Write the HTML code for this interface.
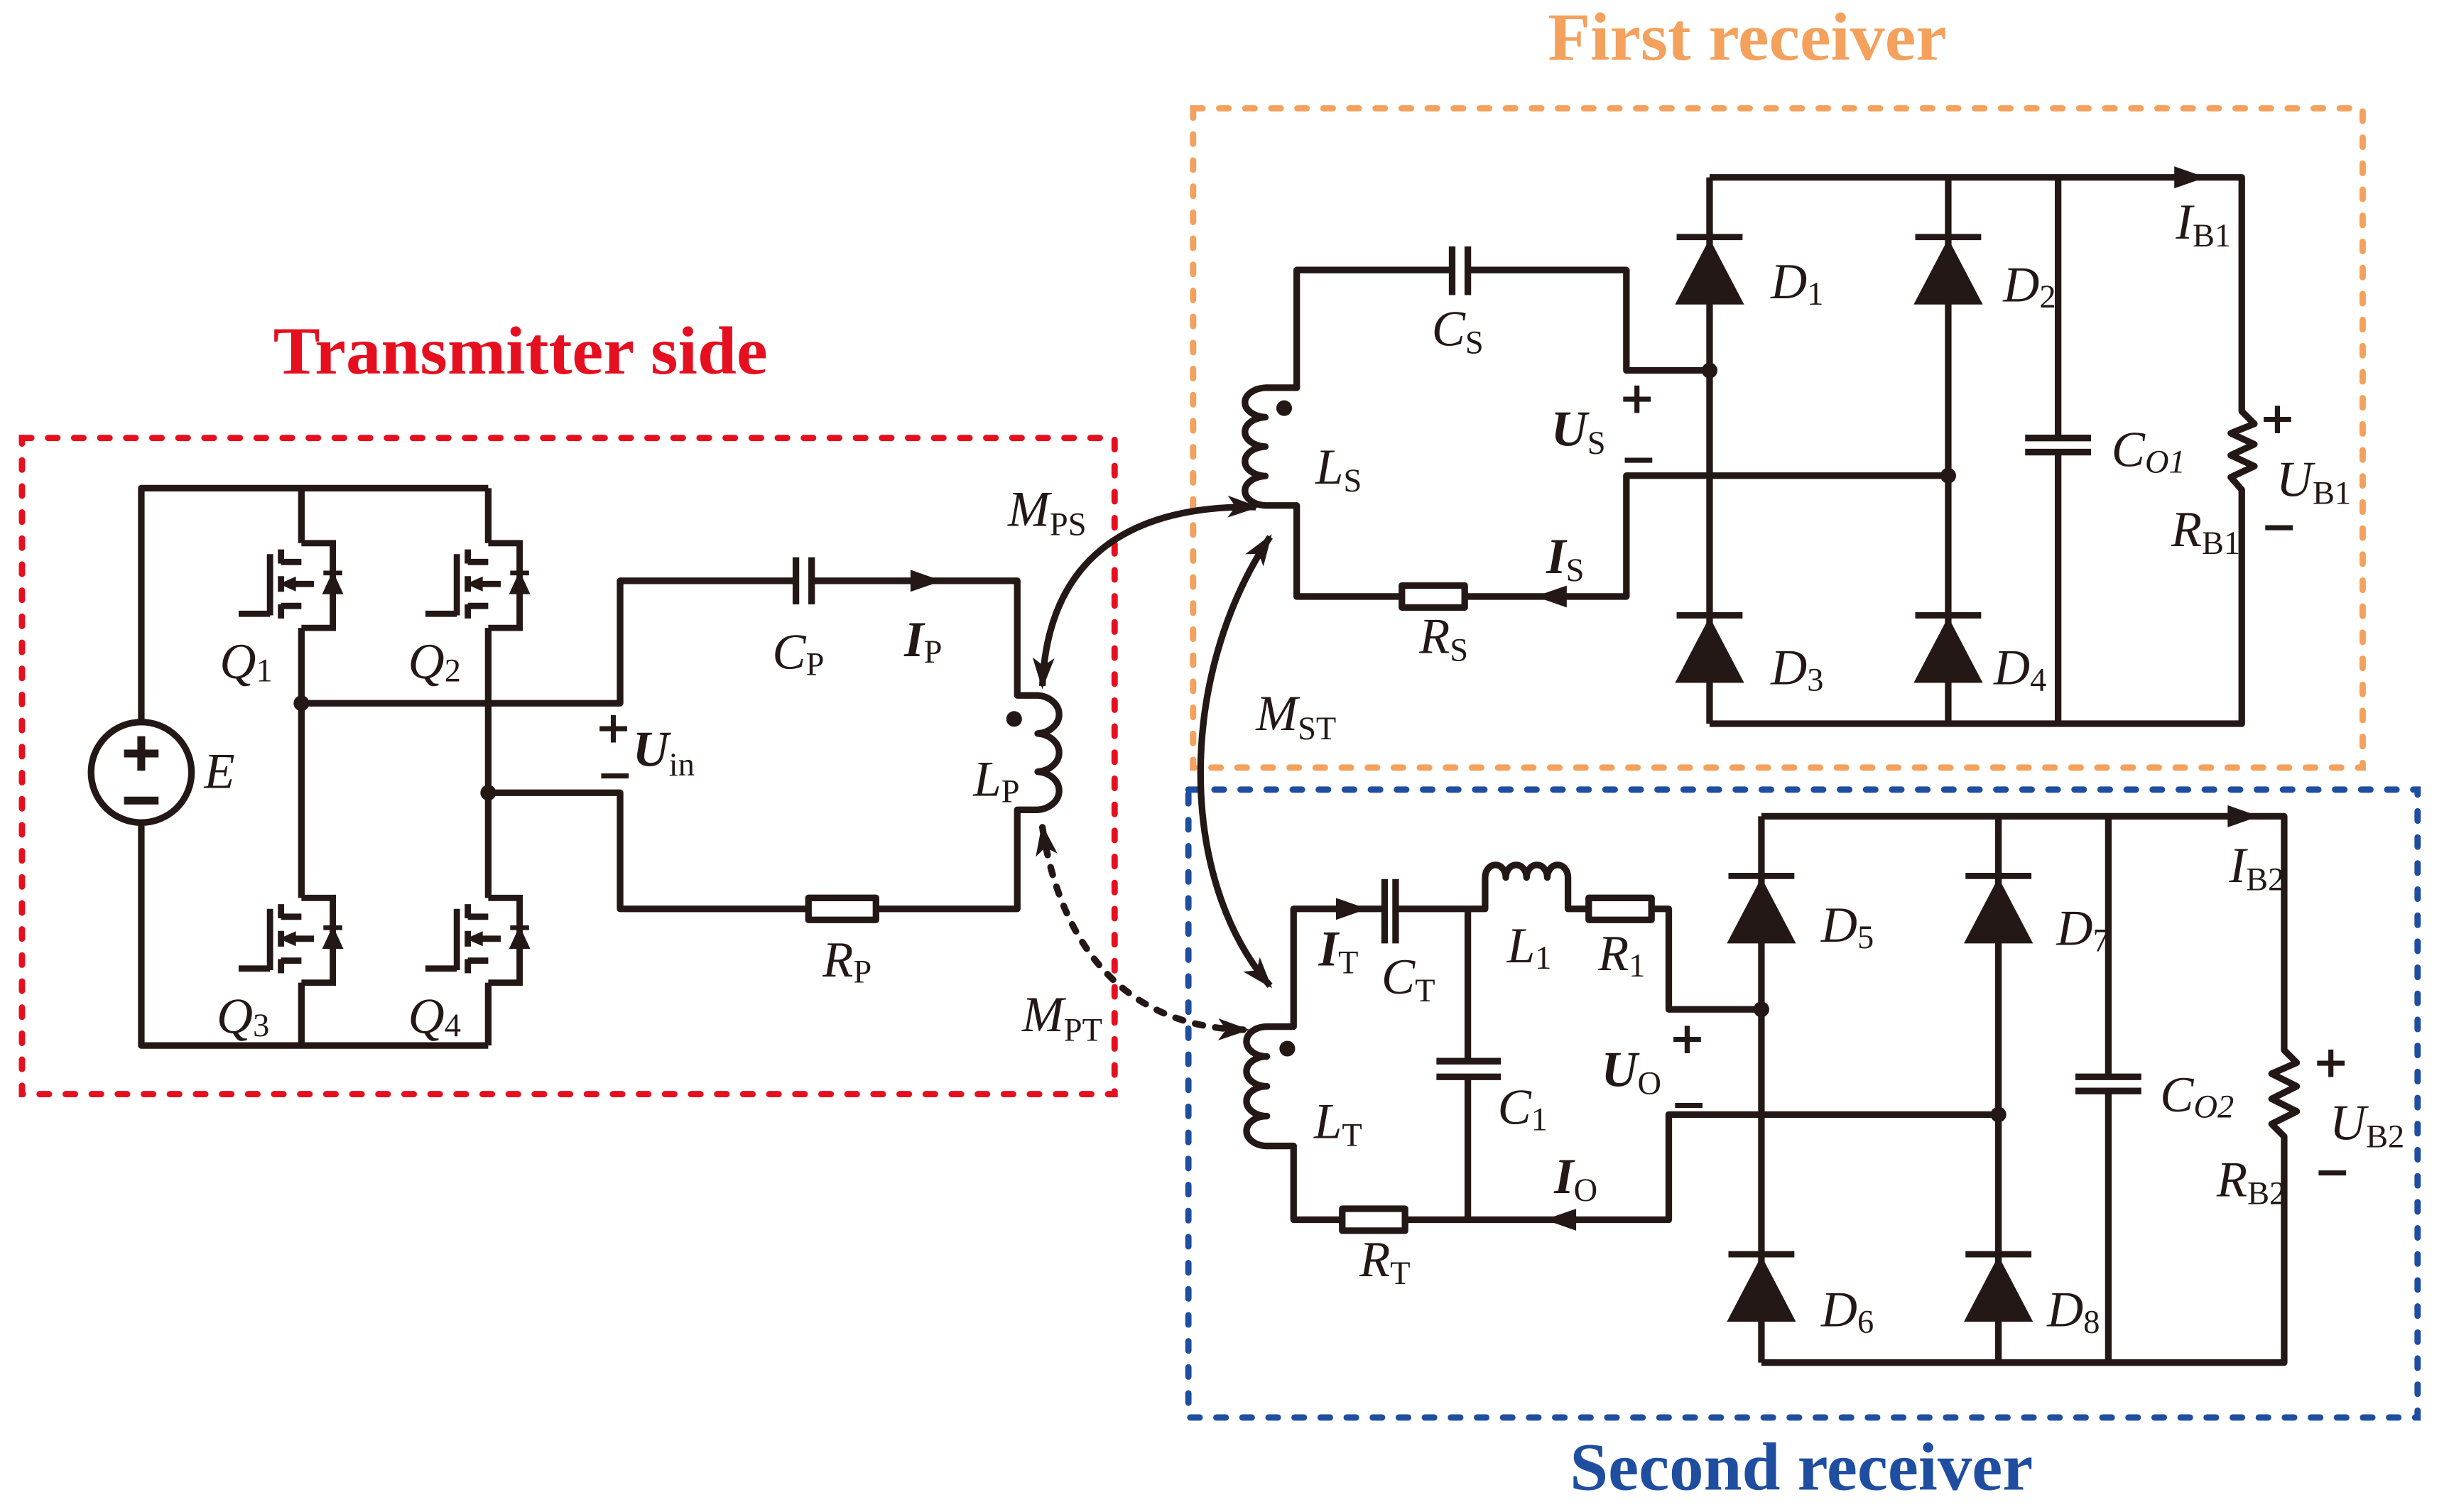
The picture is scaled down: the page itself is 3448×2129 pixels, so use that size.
<!DOCTYPE html>
<html><head><meta charset="utf-8"><style>
html,body{margin:0;padding:0;background:#fff}
svg{display:block}
.t{font-family:"Liberation Serif",serif;font-style:italic;font-size:32px;fill:#231815}
.b{font-weight:bold}
.s{font-size:21px;font-style:normal}
.si{font-size:21px;font-style:italic}
.pm{font-family:"DejaVu Sans",sans-serif;font-weight:bold;font-size:28px;fill:#231815}
</style></head><body>
<svg width="3448" height="2129" viewBox="0 0 1560 963.2" preserveAspectRatio="none" xmlns="http://www.w3.org/2000/svg">
<defs>
<marker id="ah" viewBox="0 0 20 14" refX="18" refY="7" markerWidth="20" markerHeight="14" markerUnits="userSpaceOnUse" orient="auto-start-reverse">
<path d="M0,0 L20,7 L0,14 L5,7 Z" fill="#231815"/></marker>
<g id="mos" stroke="#231815" stroke-width="4" fill="none">
<path d="M0,-26 H20 V28 H0"/>
<path d="M0,-14 H-13 M-13,14 H0"/>
<path d="M-13,-22 V-13 M-13,-5 V5 M-13,13 V22"/>
<path d="M-20,-19 V20 M-40,19 H-20"/>
<path d="M-6,0 H8"/>
<path d="M-13,0 L-4,-4 L-4,4 Z" fill="#231815" stroke-width="1"/>
<path d="M20,-7 L14,6 L26,6 Z" fill="#231815" stroke-width="1"/>
<path d="M14,-7 H26" stroke-width="3"/>
</g>
<g id="dio">
<path d="M-22,0 L22,0 L0,-42 Z" fill="#231815" transform="translate(0,43)"/>
<path d="M-21,0 H21" stroke="#231815" stroke-width="4"/>
</g>
</defs>

<g fill="none" stroke-width="4" stroke-linecap="round" stroke-dasharray="6 10.6">
<rect x="14" y="279" width="696" height="418" stroke="#E50F1F"/>
<rect x="760" y="69" width="745" height="420" stroke="#F3A15C"/>
<rect x="757" y="503" width="783" height="400" stroke="#1F4EA0"/>
</g>

<text x="174" y="238" textLength="315" lengthAdjust="spacingAndGlyphs" style="font-family:'Liberation Serif',serif;font-weight:bold;font-size:43px;fill:#E50F1F">Transmitter side</text>
<text x="986" y="38" textLength="254" lengthAdjust="spacingAndGlyphs" style="font-family:'Liberation Serif',serif;font-weight:bold;font-size:43px;fill:#F3A15C">First receiver</text>
<text x="1000" y="949" textLength="295" lengthAdjust="spacingAndGlyphs" style="font-family:'Liberation Serif',serif;font-weight:bold;font-size:43px;fill:#1F4EA0">Second receiver</text>

<g stroke="#231815" stroke-width="4.2" fill="none" stroke-linejoin="round">
<path d="M90,459 V311 H311 M90,525 V666 H311"/>
<circle cx="90" cy="492" r="32"/>
<path d="M192,311 V346 M192,400 V572 M192,626 V666"/>
<path d="M311,311 V346 M311,400 V572 M311,626 V666"/>
<path d="M192,448 H395 V370 H507 M517,370 H648 V443 H661 a15,12.2 0 0 1 0,24.3 a15,12.2 0 0 1 0,24.3 a15,12.2 0 0 1 0,24.3 H648 V579 H558 M515,579 H395 V505 H311"/>
<path d="M507,355 V385 M517,355 V385"/>
<rect x="515" y="572" width="43" height="14" fill="#fff"/>
<path d="M925,172 H826 V247 H806 a14,9.4 0 0 0 0,18.75 a14,9.4 0 0 0 0,18.75 a14,9.4 0 0 0 0,18.75 a14,9.4 0 0 0 0,18.75 H826 V380 H893 M933,380 H1036 V303 H1241 M935,172 H1036 V236 H1089"/>
<path d="M925,157 V188 M935,157 V188"/>
<rect x="893" y="373" width="40" height="14" fill="#fff"/>
<path d="M1089,113 V461 M1241,113 V461 M1089,113 H1428 V262 L1436,270 L1421,276 L1436,283 L1421,290 L1436,297 L1421,304 L1428,312 V461 H1089"/>
<path d="M1311,113 V279 M1311,288 V461 M1290,279 H1332 M1290,288 H1332"/>
<path d="M882,579 H824 V654 H807 a13,9.5 0 0 0 0,19 a13,9.5 0 0 0 0,19 a13,9.5 0 0 0 0,19 a13,9.5 0 0 0 0,19 H824 V777 H855 M895,777 H1063 V710 H1273 M889,579 H946 V559 a6.6,8 0 0 1 13.2,0 a6.6,8 0 0 1 13.2,0 a6.6,8 0 0 1 13.2,0 a6.6,8 0 0 1 13.2,0 V579 H1012 M1052,579 H1063 V643 H1122"/>
<path d="M935,579 V676 M935,686 V777 M915,676 H956 M915,686 H956"/>
<path d="M882,560 V601 M889,560 V601"/>
<rect x="1012" y="572" width="40" height="14" fill="#fff"/>
<rect x="855" y="770" width="40" height="14" fill="#fff"/>
<path d="M1122,520 V868 M1273,520 V868 M1122,520 H1455 V669 L1463,677 L1447,684 L1463,692 L1447,700 L1463,708 L1447,716 L1455,724 V868 H1122"/>
<path d="M1343,520 V686 M1343,695 V868 M1322,686 H1364 M1322,695 H1364"/>
<path d="M800,323 C740,322 668,340 664,437" marker-start="url(#ah)" marker-end="url(#ah)"/>
<path d="M809,342 C750,430 750,560 809,628" marker-start="url(#ah)" marker-end="url(#ah)"/>
<path d="M664,527 C675,600 715,655 794,656" stroke-dasharray="5 8" stroke-linecap="round" marker-start="url(#ah)" marker-end="url(#ah)"/>
</g>

<path d="M79,480 H101 M90,469 V491 M79,510 H101" stroke="#231815" stroke-width="5"/>

<use href="#mos" x="192" y="372"/>
<use href="#mos" x="311" y="372"/>
<use href="#mos" x="192" y="598"/>
<use href="#mos" x="311" y="598"/>

<use href="#dio" x="1089" y="151"/>
<use href="#dio" x="1241" y="151"/>
<use href="#dio" x="1089" y="392"/>
<use href="#dio" x="1241" y="392"/>
<use href="#dio" x="1122" y="558"/>
<use href="#dio" x="1273" y="558"/>
<use href="#dio" x="1122" y="799"/>
<use href="#dio" x="1273" y="799"/>

<g fill="#231815">
<circle cx="192" cy="448" r="5"/><circle cx="311" cy="505" r="5"/>
<circle cx="1089" cy="236" r="5"/><circle cx="1241" cy="303" r="5"/>
<circle cx="1122" cy="643" r="5"/><circle cx="1273" cy="710" r="5"/>
<circle cx="646" cy="458" r="5"/><circle cx="818" cy="260" r="5"/><circle cx="820" cy="668" r="5"/>
<path d="M600,370 L580,363 L580,377 Z"/>
<path d="M1405,113 L1385,106 L1385,120 Z"/>
<path d="M1439,520 L1419,513 L1419,527 Z"/>
<path d="M978,380 L998,373 L998,387 Z"/>
<path d="M984,777 L1004,770 L1004,784 Z"/>
<path d="M871,579 L851,572 L851,586 Z"/>
</g>

<g class="pm">
<text x="379" y="473">+</text><text x="380" y="503">−</text>
<text x="1031" y="263">+</text><text x="1032" y="302">−</text>
<text x="1063" y="671">+</text><text x="1064" y="713">−</text>
<text x="1439" y="276">+</text><text x="1440" y="345">−</text>
<text x="1473" y="686">+</text><text x="1474" y="756">−</text>
</g>

<g class="t">
<text x="140" y="432">Q<tspan class="s" dy="2">1</tspan></text>
<text x="260" y="432">Q<tspan class="s" dy="2">2</tspan></text>
<text x="138" y="658">Q<tspan class="s" dy="2">3</tspan></text>
<text x="260" y="658">Q<tspan class="s" dy="2">4</tspan></text>
<text x="130" y="502">E</text>
<text x="492" y="426">C<tspan class="s" dy="4">P</tspan></text>
<text x="576" y="418" class="b">I<tspan class="s" dy="4" style="font-weight:normal">P</tspan></text>
<text x="403" y="488" class="b">U<tspan class="s" dy="6" style="font-weight:normal">in</tspan></text>
<text x="620" y="507">L<tspan class="s" dy="4">P</tspan></text>
<text x="524" y="622">R<tspan class="s" dy="4">P</tspan></text>
<text x="642" y="335">M<tspan class="s" dy="6">PS</tspan></text>
<text x="651" y="657">M<tspan class="s" dy="6">PT</tspan></text>
<text x="800" y="465">M<tspan class="s" dy="6">ST</tspan></text>

<text x="912" y="220">C<tspan class="s" dy="5">S</tspan></text>
<text x="838" y="308">L<tspan class="s" dy="5">S</tspan></text>
<text x="988" y="284" class="b">U<tspan class="s" dy="5" style="font-weight:normal">S</tspan></text>
<text x="985" y="365" class="b">I<tspan class="s" dy="5" style="font-weight:normal">S</tspan></text>
<text x="904" y="416">R<tspan class="s" dy="5">S</tspan></text>
<text x="1128" y="190">D<tspan class="s" dy="4">1</tspan></text>
<text x="1276" y="192">D<tspan class="s" dy="4">2</tspan></text>
<text x="1128" y="436">D<tspan class="s" dy="4">3</tspan></text>
<text x="1270" y="436">D<tspan class="s" dy="4">4</tspan></text>
<text x="1345" y="297">C<tspan class="si" dy="4">O1</tspan></text>
<text x="1386" y="152">I<tspan class="s" dy="5">B1</tspan></text>
<text x="1450" y="316">U<tspan class="s" dy="5">B1</tspan></text>
<text x="1383" y="348">R<tspan class="s" dy="5">B1</tspan></text>

<text x="840" y="615" class="b">I<tspan class="s" dy="5" style="font-weight:normal">T</tspan></text>
<text x="880" y="633">C<tspan class="s" dy="5">T</tspan></text>
<text x="960" y="613">L<tspan class="s" dy="4">1</tspan></text>
<text x="1018" y="618">R<tspan class="s" dy="4">1</tspan></text>
<text x="837" y="725">L<tspan class="s" dy="5">T</tspan></text>
<text x="954" y="716">C<tspan class="s" dy="4">1</tspan></text>
<text x="1020" y="692" class="b">U<tspan class="s" dy="5" style="font-weight:normal">O</tspan></text>
<text x="990" y="760" class="b">I<tspan class="s" dy="5" style="font-weight:normal">O</tspan></text>
<text x="866" y="813">R<tspan class="s" dy="5">T</tspan></text>
<text x="1160" y="600">D<tspan class="s" dy="4">5</tspan></text>
<text x="1310" y="602">D<tspan class="s" dy="4">7</tspan></text>
<text x="1160" y="845">D<tspan class="s" dy="4">6</tspan></text>
<text x="1304" y="845">D<tspan class="s" dy="4">8</tspan></text>
<text x="1376" y="708">C<tspan class="si" dy="4">O2</tspan></text>
<text x="1420" y="562">I<tspan class="s" dy="5">B2</tspan></text>
<text x="1484" y="726">U<tspan class="s" dy="5">B2</tspan></text>
<text x="1412" y="762">R<tspan class="s" dy="5">B2</tspan></text>
</g>
</svg>
</body></html>
